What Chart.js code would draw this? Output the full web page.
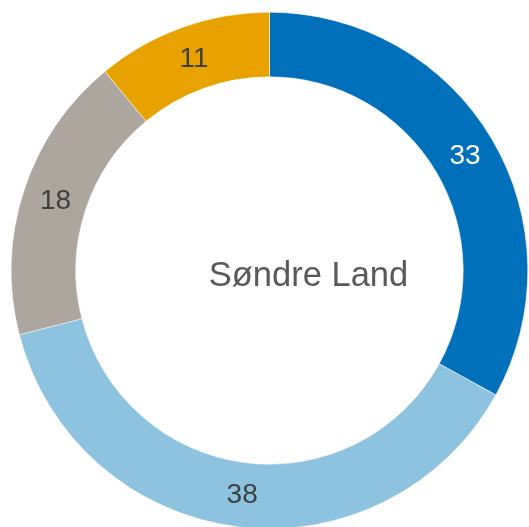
<!DOCTYPE html>
<html>
<head>
<meta charset="utf-8">
<script src="https://cdn.jsdelivr.net/npm/chart.js@4/dist/chart.umd.min.js"></script>
<style>
  html, body { margin: 0; padding: 0; background: #ffffff; overflow: hidden; }
  #wrap { position: absolute; left: 0; top: 0; width: 529px; height: 540px; }
</style>
</head>
<body>
<div id="wrap"><canvas id="ring-chart"></canvas></div>
<script>
// Chart data
var categories = ['A', 'B', 'C', 'D'];
var values = [33, 38, 18, 11];
var colours = ['#0070BA', '#8EC3DF', '#ADA69F', '#E8A200'];
var labelColours = ['#ffffff', '#404040', '#404040', '#404040'];
var centreTitle = 'Søndre Land';

var ringChart;

// Draw the value of each slice in the middle of its ring
var sliceLabels = {
  id: 'sliceLabels',
  afterDatasetsDraw: function (chart) {
    var ctx = chart.ctx;
    var meta = chart.getDatasetMeta(0);
    ctx.save();
    ctx.font = '28px "Liberation Sans", Arial, sans-serif';
    ctx.textAlign = 'center';
    ctx.textBaseline = 'middle';
    meta.data.forEach(function (arc, i) {
      var pos = arc.tooltipPosition();
      ctx.fillStyle = labelColours[i];
      ctx.fillText(String(values[i]), pos.x + 1, pos.y + 1);
    });
    ctx.restore();
  }
};

// Title inside the hole
var centreText = {
  id: 'centreText',
  afterDraw: function (chart) {
    var ctx = chart.ctx;
    var arc = chart.getDatasetMeta(0).data[0];
    ctx.save();
    ctx.font = '34.5px "Liberation Sans", Arial, sans-serif';
    ctx.fillStyle = '#595959';
    ctx.textAlign = 'center';
    ctx.textBaseline = 'middle';
    ctx.fillText(centreTitle, arc.x + 39, arc.y + 6);
    ctx.restore();
  }
};

var ringctx = document.getElementById('ring-chart').getContext('2d');
ringChart = new Chart(ringctx, {
  type: 'doughnut',
  data: {
    labels: categories,
    datasets: [{
      data: values,
      backgroundColor: colours,
      borderColor: '#ffffff',
      borderWidth: 0.5
    }]
  },
  options: {
    responsive: true,
    maintainAspectRatio: false,
    animation: false,
    cutout: '75%',
    layout: {
      padding: { left: 11, right: 1, top: 12, bottom: 11 }
    },
    plugins: {
      legend: { display: false },
      tooltip: { enabled: false }
    }
  },
  plugins: [sliceLabels, centreText]
});
</script>
</body>
</html>
